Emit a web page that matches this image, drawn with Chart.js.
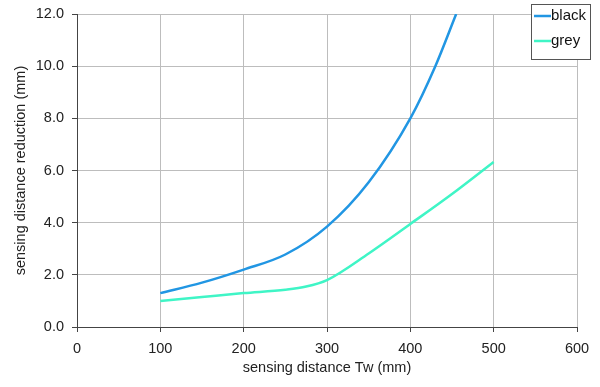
<!DOCTYPE html>
<html>
<head>
<meta charset="utf-8">
<script src="https://cdn.jsdelivr.net/npm/chart.js@4"></script>
<style>
  html, body { margin: 0; padding: 0; background: #fff; }
  #wrap { width: 600px; height: 387px; position: relative; }
</style>
</head>
<body>
<div id="wrap"><canvas id="chart"></canvas></div>
<script>
// values
const blackX = [100, 150, 200, 250, 300, 350, 400, 430, 455];
const blackY = [1.3, 1.7, 2.2, 2.78, 3.85, 5.55, 8.0, 10.0, 12.0];
const greyX = [100, 150, 200, 250, 275, 300, 350, 400, 450, 500];
const greyY = [1.0, 1.15, 1.3, 1.43, 1.55, 1.8, 2.82, 3.95, 5.1, 6.33];
const seriesNames = ['black', 'grey'];
const seriesColors = ['#2196e3', '#3ff5c6'];

const font = { family: 'Liberation Sans, Arial, sans-serif', size: 14.5 };

// legend drawn as a boxed panel over the plot, top-right
const boxLegend = {
    id: 'boxLegend',
    afterDraw(chart) {
        const ctx = chart.ctx;
        const x = 531, y = 4, w = 59, h = 55;
        ctx.save();
        ctx.fillStyle = '#fff';
        ctx.fillRect(x, y, w, h);
        ctx.strokeStyle = '#555';
        ctx.lineWidth = 1;
        ctx.strokeRect(x + 0.5, y + 0.5, w, h);
        ctx.font = '15px ' + font.family;
        ctx.textBaseline = 'middle';
        chart.data.datasets.forEach((ds, i) => {
            const ly = y + 12 + i * 25;
            ctx.strokeStyle = ds.borderColor;
            ctx.lineWidth = 2.5;
            ctx.beginPath();
            ctx.moveTo(x + 3, ly);
            ctx.lineTo(x + 20, ly);
            ctx.stroke();
            ctx.fillStyle = '#111';
            ctx.fillText(ds.label, x + 20, ly);
        });
        ctx.restore();
    }
};

const toPts = (xs, ys) => xs.map((v, i) => ({ x: v, y: ys[i] }));

new Chart(document.getElementById('chart'), {
    type: 'line',
    data: {
        datasets: [
            { label: seriesNames[0], data: toPts(blackX, blackY), borderColor: seriesColors[0] },
            { label: seriesNames[1], data: toPts(greyX, greyY), borderColor: seriesColors[1] }
        ]
    },
    options: {
        responsive: true,
        maintainAspectRatio: false,
        animation: false,
        layout: { padding: { top: 14, right: 23, left: 0, bottom: 0 } },
        elements: {
            line: { borderWidth: 2.5, cubicInterpolationMode: 'monotone', fill: false },
            point: { radius: 0 }
        },
        plugins: { legend: { display: false }, tooltip: { enabled: false } },
        scales: {
            x: {
                type: 'linear', min: 0, max: 600,
                ticks: { stepSize: 100, color: '#222', font: font, padding: 8 },
                grid: { color: '#bdbdbd', tickColor: '#444', tickLength: 5 },
                border: { color: '#444', width: 1 },
                title: { display: true, text: 'sensing distance Tw (mm)', color: '#222', font: font, padding: { top: 2, bottom: 10 } },
                afterFit(s) { s.height = 60; }
            },
            y: {
                min: 0, max: 12,
                ticks: { stepSize: 2, color: '#222', font: font, padding: 8, callback: v => v.toFixed(1) },
                grid: { color: '#bdbdbd', tickColor: '#444', tickLength: 5 },
                border: { color: '#444', width: 1 },
                title: { display: true, text: 'sensing distance reduction (mm)', color: '#222', font: font, padding: { top: 12, bottom: 4 } },
                afterFit(s) { s.width = 77; s.paddingTop = 0; s.paddingBottom = 0; }
            }
        }
    },
    plugins: [boxLegend]
});
</script>
</body>
</html>
